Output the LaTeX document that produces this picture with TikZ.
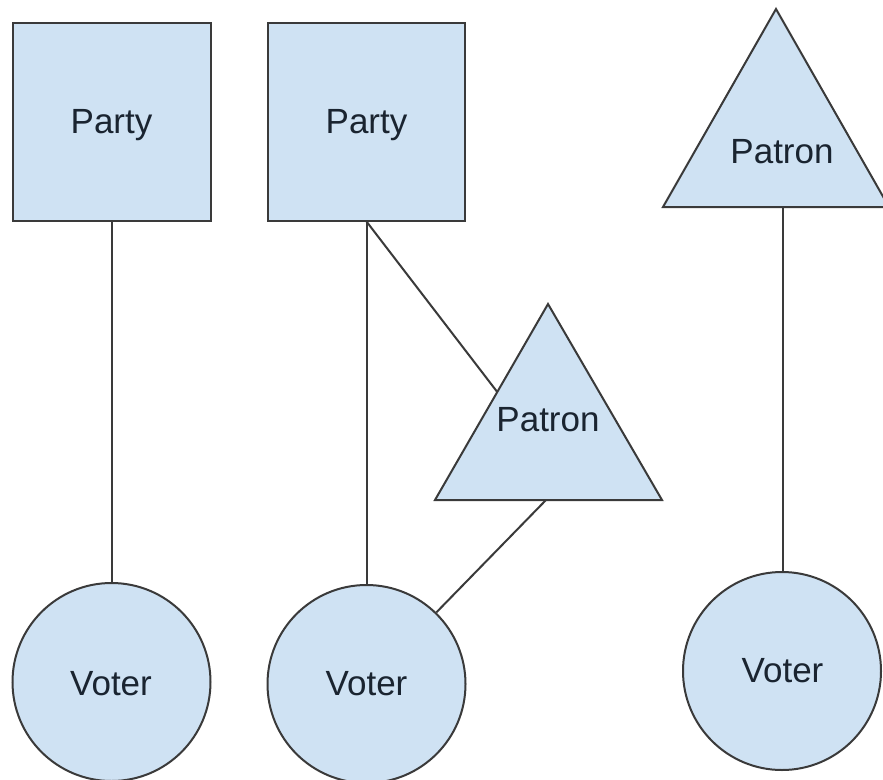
\documentclass[tikz,border=0pt]{standalone}
\usepackage{fontspec}
\setmainfont{Liberation Sans}
\usetikzlibrary{calc}
\definecolor{shapefill}{HTML}{CFE2F3}
\definecolor{shapeline}{HTML}{3A3A3A}
\definecolor{txt}{HTML}{1A2430}
\begin{document}
\begin{tikzpicture}[x=1pt,y=-1pt,
  shp/.style={draw=shapeline,fill=shapefill,line width=2pt,line join=miter},
  lbl/.style={font=\fontsize{35}{40}\selectfont,text=txt,inner sep=0pt,anchor=base},
  conn/.style={draw=shapeline,line width=2pt},
  voter/.style={shp,circle,minimum size=198pt,inner sep=0pt}]
\useasboundingbox[fill=white] (0,0) rectangle (883,779);
\clip (0,0) rectangle (883,779);
% Left column
\node[shp,rectangle,minimum width=198pt,minimum height=198pt,inner sep=0pt] (p1) at (111.5,121.5) {};
\node[lbl] at (111.5,133) {Party};
\node[voter] (v1) at (111.5,682) {};
\node[lbl] at (111,695) {Voter};
% Middle column
\node[shp,rectangle,minimum width=197pt,minimum height=198pt,inner sep=0pt] (p2) at (366.5,121.5) {};
\node[lbl] at (366.5,133) {Party};
\node[voter] (v2) at (366.5,684) {};
\node[lbl] at (366.5,695) {Voter};
\coordinate (t2a) at (548,304);
\coordinate (t2l) at (435,500);
\coordinate (t2r) at (662,500);
\path[shp] (t2a) -- (t2l) -- (t2r) -- cycle;
\node[lbl] (t2) at (548,431) {Patron};
\coordinate (t2base) at (546,500);
\coordinate (t2side) at ($(t2a)!0.449!(t2l)$);
% Right column
\coordinate (t3a) at (776,9);
\coordinate (t3l) at (663,207);
\coordinate (t3r) at (889,207);
\path[shp] (t3a) -- (t3l) -- (t3r) -- cycle;
\node[lbl] (t3) at (782,163) {Patron};
\coordinate (t3base) at (783,207);
\node[voter] (v3) at (782,671) {};
\node[lbl] at (782.5,682) {Voter};
% Connectors
\draw[conn] (p1.south) -- (v1.north);
\draw[conn] (p2.south) -- (p2.south |- v2.north);
\draw[conn] (p2.south) -- (t2side);
\draw[conn] (t2base) -- (v2);
\draw[conn] (t3base) -- (t3base |- v3.north);
\end{tikzpicture}
\end{document}
